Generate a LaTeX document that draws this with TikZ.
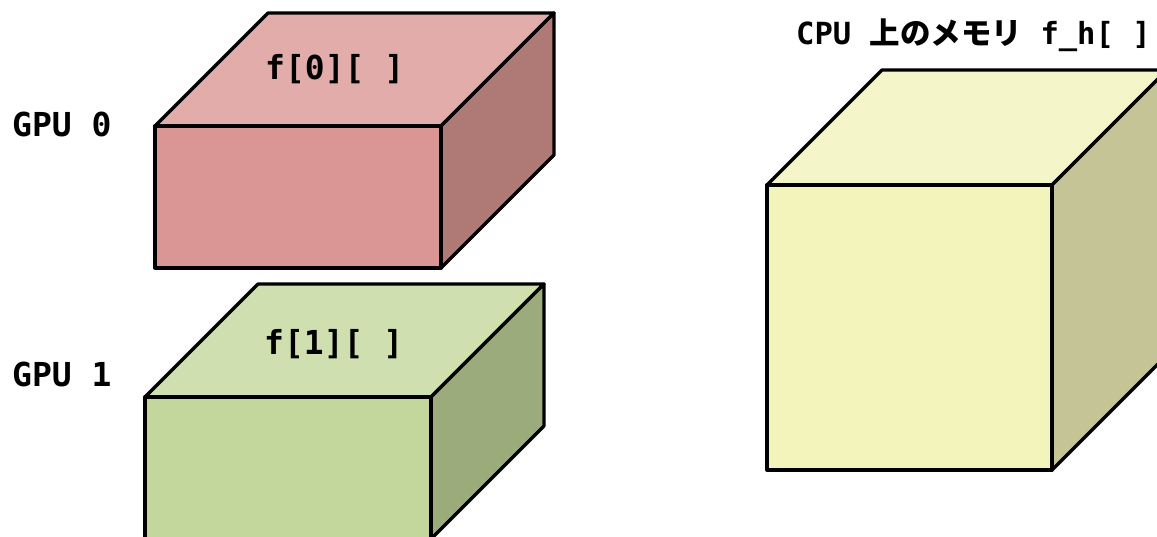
\documentclass[tikz,border=0pt]{standalone}
\usepackage{fontspec}
\setmonofont{DejaVu Sans Mono}
\newfontfamily\jpfont{Noto Sans CJK JP}
\definecolor{redfront}{HTML}{D99694}
\definecolor{redtop}{HTML}{E1ACAA}
\definecolor{redside}{HTML}{AF7A76}
\definecolor{greenfront}{HTML}{C3D69B}
\definecolor{greentop}{HTML}{CFDFB0}
\definecolor{greenside}{HTML}{9CAB7C}
\definecolor{yelfront}{HTML}{F3F3BC}
\definecolor{yeltop}{HTML}{F5F5CA}
\definecolor{yelside}{HTML}{C5C497}
% #1,#2: top-left corner of the front face; #3 width; #4 height; #5 depth;
% #6,#7,#8: front, top and side colours
\newcommand\cuboid[8]{%
  \filldraw[face, fill=#7] (#1,#2) -- ++(#5,-#5) -- ++(#3,0) -- ++(-#5,#5) -- cycle;
  \filldraw[face, fill=#8] (#1+#3,#2) -- ++(#5,-#5) -- ++(0,#4) -- ++(-#5,#5) -- cycle;
  \filldraw[face, fill=#6] (#1,#2) rectangle ++(#3,#4);
}
\begin{document}
\begin{tikzpicture}[x=1pt,y=-1pt,
  face/.style={draw=black, line width=3.3pt, line join=round},
  label/.style={font=\ttfamily\bfseries\fontsize{33}{40}\selectfont, inner sep=0pt, anchor=base west}]
\useasboundingbox (0,0) rectangle (1157,537);
\clip (0,0) rectangle (1157,537);
\fill[white] (0,0) rectangle (1157,537);

\cuboid{155}{126}{286}{142}{113}{redfront}{redtop}{redside}
\cuboid{145}{397}{286}{142}{113}{greenfront}{greentop}{greenside}
\cuboid{767}{185}{285}{285}{115}{yelfront}{yeltop}{yelside}

\node[label] (f0) at (265,80) {f[0][ ]};
\node[label] (f1) at (264,355) {f[1][ ]};
\node[label] (gpu0) at (12,137) {GPU 0};
\node[label] (gpu1) at (12,387) {GPU 1};
\node[label, font=\ttfamily\bfseries\fontsize{30.5}{36}\selectfont] (cpu) at (796,45)
  {CPU {\jpfont\bfseries 上のメモリ} f\_h[ ]};
\end{tikzpicture}
\end{document}
